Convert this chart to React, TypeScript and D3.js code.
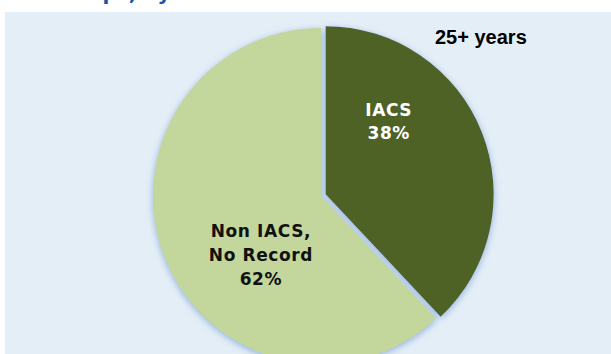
import React, { useEffect, useRef } from "react";
import * as d3 from "d3";

type Slice = {
  name: string;
  value: number;
};

const categories = ["IACS", "Non IACS, No Record"];
const values = [38, 62];
const labelLines = [["IACS", "38%"], ["Non IACS,", "No Record", "62%"]];
const colors = ["#4f6228", "#c3d69b"];
const labelColors = ["#ffffff", "#111111"];
const subtitle = "25+ years";
const title = "Lost Ships, by Classification";

const App: React.FC = () => {
  const svgRef = useRef<SVGSVGElement>(null);
  const width = 611;
  const height = 354;
  const cx = 321;
  const cy = 196;
  const r = 168;

  useEffect(() => {
    const data: Slice[] = categories.map((c, i) => ({ name: c, value: values[i] }));
    const svg = d3.select(svgRef.current);
    svg.selectAll("*").remove();

    const defs = svg.append("defs");
    const shadow = defs.append("filter").attr("id", "pieShadow")
      .attr("x", "-20%").attr("y", "-20%").attr("width", "140%").attr("height", "140%");
    shadow.append("feDropShadow")
      .attr("dx", 0).attr("dy", 2).attr("stdDeviation", 3.5)
      .attr("flood-color", "#93b3dc").attr("flood-opacity", 1);

    // title, mostly cut off above the picture
    svg.append("text")
      .attr("x", 12).attr("y", 0)
      .attr("font-family", "DejaVu Sans").attr("font-weight", "bold")
      .attr("font-size", 20).attr("fill", "#1b53a6")
      .text(title);

    svg.append("rect")
      .attr("x", 5).attr("y", 12)
      .attr("width", width - 5).attr("height", height - 12)
      .attr("fill", "#e4eef7");

    const pie = d3.pie<Slice>().sort(null).value((d) => d.value);
    const arc = d3.arc<d3.PieArcDatum<Slice>>().innerRadius(0).outerRadius(r);
    const arcs = pie(data);

    // explode the small slice a bit
    const explode = [5, 0];
    const shift = (d: d3.PieArcDatum<Slice>, i: number) => {
      const a = (d.startAngle + d.endAngle) / 2;
      return [Math.sin(a) * explode[i], -Math.cos(a) * explode[i]];
    };

    const g = svg.append("g")
      .attr("transform", `translate(${cx},${cy})`)
      .attr("filter", "url(#pieShadow)");

    g.selectAll("path")
      .data(arcs)
      .join("path")
      .attr("transform", (d, i) => `translate(${shift(d, i).join(",")})`)
      .attr("d", arc as any)
      .attr("fill", (d, i) => colors[i]);

    // label placement relative to the arc centroid
    const labelOffset = [[-15, -47], [18, 10]];
    const lineH = [22.4, 24];
    const fontSize = [17, 17];

    const labels = svg.append("g").attr("transform", `translate(${cx},${cy})`);
    arcs.forEach((d, i) => {
      const [x0, y0] = arc.centroid(d);
      const [sx, sy] = shift(d, i);
      const t = labels.append("text")
        .attr("text-anchor", "middle")
        .attr("font-family", "DejaVu Sans").attr("font-weight", "bold")
        .attr("font-size", fontSize[i])
        .attr("letter-spacing", 0.6)
        .attr("fill", labelColors[i]);
      labelLines[i].forEach((line, k) => {
        t.append("tspan")
          .attr("x", x0 + sx + labelOffset[i][0])
          .attr("y", y0 + sy + labelOffset[i][1] + k * lineH[i])
          .text(line);
      });
    });

    svg.append("text")
      .attr("x", 435).attr("y", 44)
      .attr("font-family", "Liberation Sans").attr("font-weight", "bold")
      .attr("font-size", 20).attr("fill", "#000")
      .text(subtitle);
  }, []);

  return (
    <svg
      ref={svgRef}
      width={width}
      height={height}
      style={{ position: "absolute", left: 0, top: 0, background: "#fff" }}
    ></svg>
  );
};

export default App;
